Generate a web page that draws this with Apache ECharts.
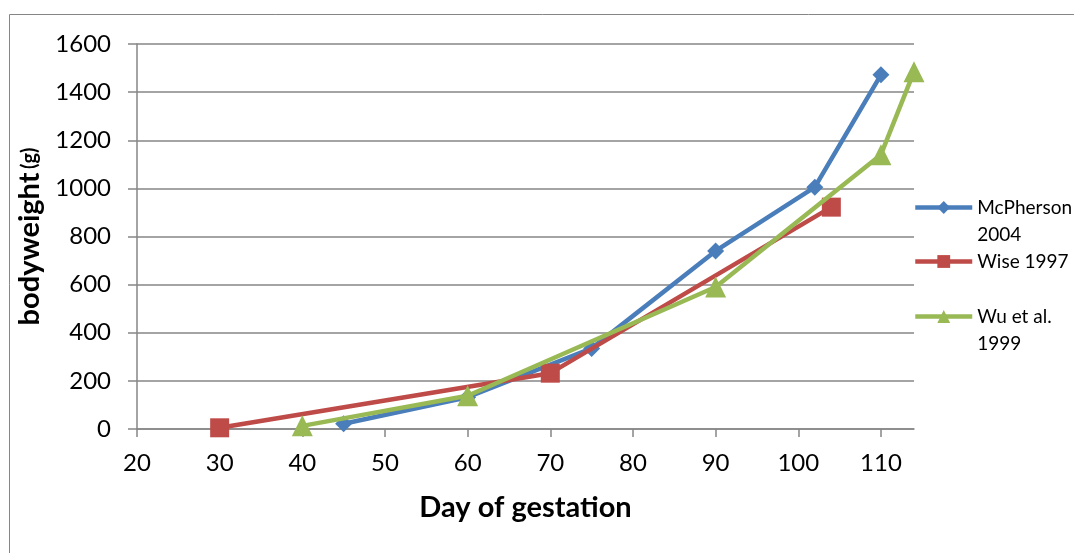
<!DOCTYPE html>
<html>
<head>
<meta charset="utf-8">
<title>Bodyweight by day of gestation</title>
<script src="https://cdn.jsdelivr.net/npm/echarts@6/dist/echarts.min.js"></script>
<style>
  html, body { margin: 0; padding: 0; background: #ffffff; }
  #chart { width: 1074px; height: 553px; }
</style>
</head>
<body>
<div id="chart"></div>
<script>
// Fetal bodyweight (g) against day of gestation, three published sources
const mcphersonDays = [45, 60, 75, 90, 102, 110];
const mcphersonWeight = [22, 132, 335, 740, 1005, 1472];

const wiseDays = [30, 70, 104];
const wiseWeight = [5, 232, 922];

const wuDays = [40, 60, 90, 110, 114];
const wuWeight = [13, 138, 590, 1140, 1485];

const xTicks = [20, 30, 40, 50, 60, 70, 80, 90, 100, 110];
const yTicks = [0, 200, 400, 600, 800, 1000, 1200, 1400, 1600];

const seriesNames = ['McPherson 2004', 'Wise 1997', 'Wu et al. 1999'];
const legendLabels = ['\nMcPherson\n2004', 'Wise 1997', '\nWu et al.\n1999'];

const pairs = (xs, ys) => xs.map((x, i) => [x, ys[i]]);

const FONT = 'Lato, "Open Sans", sans-serif';
const GRID_GRAY = '#868686';
const colors = ['#4A7EBB', '#BE4B48', '#98B954'];

const chart = echarts.init(document.getElementById('chart'), null, { renderer: 'canvas' });

function legendFor(i, top) {
  return {
    data: [seriesNames[i]],
    left: 913,
    top: top,
    orient: 'vertical',
    itemWidth: 57,
    itemHeight: 16,
    itemGap: 4,
    padding: 0,
    formatter: () => legendLabels[i],
    lineStyle: { width: 4.5 },
    textStyle: { fontFamily: FONT, fontSize: 19, color: '#000', lineHeight: 27 },
    selectedMode: false
  };
}

const option = {
  backgroundColor: '#ffffff',
  animation: false,
  graphic: [{
    type: 'rect',
    shape: { x: 9.5, y: 14.5, width: 1070, height: 600 },
    style: { fill: 'none', stroke: GRID_GRAY, lineWidth: 1 },
    silent: true
  }],
  legend: [
    legendFor(0, 167),
    legendFor(1, 248),
    legendFor(2, 276)
  ],
  grid: { left: 137, right: 160, top: 44, bottom: 124, containLabel: false },
  xAxis: {
    type: 'value',
    min: 20,
    max: 114,
    interval: 10,
    name: 'Day of gestation',
    nameLocation: 'middle',
    nameGap: 64,
    nameTextStyle: { fontFamily: FONT, fontSize: 29, fontWeight: 'bold', color: '#000' },
    axisLine: { show: true, lineStyle: { color: GRID_GRAY, width: 1.5 } },
    axisTick: { show: true, length: 8, inside: false, customValues: xTicks, lineStyle: { color: GRID_GRAY, width: 1.5 } },
    axisLabel: { customValues: xTicks, margin: 22, fontFamily: FONT, fontSize: 24, color: '#000', formatter: v => String(v) },
    splitLine: { show: false }
  },
  yAxis: {
    type: 'value',
    min: 0,
    max: 1600,
    interval: 200,
    name: '{a|bodyweight} {b|(g)}',
    nameLocation: 'middle',
    nameGap: 85,
    nameRotate: 90,
    nameTextStyle: {
      rich: {
        a: { fontFamily: FONT, fontSize: 29, fontWeight: 'bold', color: '#000' },
        b: { fontFamily: FONT, fontSize: 20, fontWeight: 'bold', color: '#000' }
      }
    },
    axisLine: { show: true, lineStyle: { color: GRID_GRAY, width: 1.5 } },
    axisTick: { show: true, length: 9, inside: false, lineStyle: { color: GRID_GRAY, width: 1.5 } },
    axisLabel: { customValues: yTicks, margin: 26, fontFamily: FONT, fontSize: 24, color: '#000', formatter: v => String(v) },
    splitLine: { show: true, lineStyle: { color: GRID_GRAY, width: 1.5 } }
  },
  series: [
    {
      name: seriesNames[0],
      type: 'line',
      data: pairs(mcphersonDays, mcphersonWeight),
      symbol: 'diamond',
      symbolSize: 17,
      lineStyle: { width: 4.5, color: colors[0] },
      itemStyle: { color: colors[0] },
      z: 2
    },
    {
      name: seriesNames[1],
      type: 'line',
      data: pairs(wiseDays, wiseWeight),
      symbol: 'rect',
      symbolSize: 19,
      lineStyle: { width: 4.5, color: colors[1] },
      itemStyle: { color: colors[1] },
      z: 3
    },
    {
      name: seriesNames[2],
      type: 'line',
      data: pairs(wuDays, wuWeight),
      symbol: 'triangle',
      symbolSize: 21,
      lineStyle: { width: 4.5, color: colors[2] },
      itemStyle: { color: colors[2] },
      z: 4
    }
  ]
};

chart.setOption(option);
</script>
</body>
</html>
